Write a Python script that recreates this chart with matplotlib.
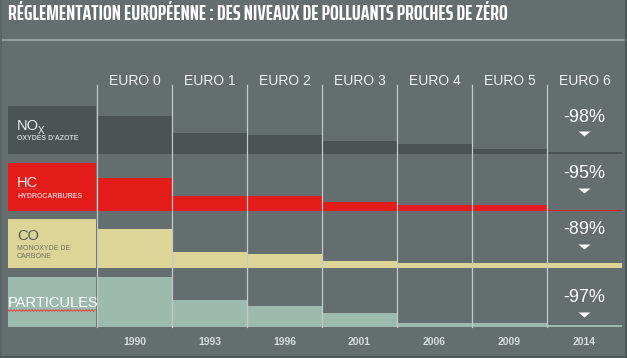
import numpy as np
import matplotlib
matplotlib.use('Agg')
import matplotlib.pyplot as plt
from matplotlib import font_manager
from matplotlib.font_manager import FontProperties
from matplotlib.patches import Rectangle, Polygon

# ── data (relative levels, EURO 0 row height scale) ──
norms = ['EURO 0', 'EURO 1', 'EURO 2', 'EURO 3', 'EURO 4', 'EURO 5', 'EURO 6']
years = ['1990', '1993', '1996', '2001', '2006', '2009', '2014']
nox = [38, 21, 19, 13, 10, 5, 2]
hc = [33, 15, 15, 9, 6, 6, 1.5]
co = [39, 16, 14, 7, 5, 5, 5]
pm = [50, 27, 21, 14, 4.5, 4, 2.5]
reductions = ['-98%', '-95%', '-89%', '-97%']

title = 'RÉGLEMENTATION EUROPÉENNE : DES NIVEAUX DE POLLUANTS PROCHES DE ZÉRO'

BG = '#646e6e'
C_NOX = '#4b5354'
C_HC = '#e31c1a'
C_CO = '#ddd597'
C_PM = '#9dbaae'
LINE = '#c4caca'

plt.rcParams['font.family'] = ['Liberation Sans', 'DejaVu Sans']

fig = plt.figure(figsize=(6.27, 3.58), dpi=100, facecolor=BG)
ax = fig.add_axes([0, 0, 1, 1])
ax.set_xlim(0, 627)
ax.set_ylim(358, 0)
ax.axis('off')
r = fig.canvas.get_renderer()

TITLE_W = 500
TITLE_PT = 14.5


def text_width(fp):
    tt = ax.text(0, 0, title, fontproperties=fp)
    w = tt.get_window_extent(r).width
    tt.remove()
    return w


def title_font():
    """Pick the bold narrow face whose natural width best matches the reference."""
    best = None
    seen = set()
    for f in font_manager.fontManager.ttflist:
        nm = (f.name + ' ' + f.fname).lower()
        narrow = ('narrow' in nm or 'condensed' in nm or
                  'condensed' in str(f.stretch))
        if not narrow or 'italic' in nm or 'oblique' in nm or f.fname in seen:
            continue
        w = f.weight if isinstance(f.weight, int) else {'bold': 700}.get(f.weight, 400)
        if w < 600 or w > 800:
            continue
        seen.add(f.fname)
        fp = FontProperties(fname=f.fname, size=TITLE_PT)
        try:
            wd = text_width(fp)
        except Exception:
            continue
        err = abs(np.log(wd / TITLE_W))
        if best is None or err < best[0]:
            best = (err, wd, fp)
    if best:
        return best[1], best[2]
    fp = FontProperties(family='Liberation Sans', weight='bold', size=TITLE_PT)
    return text_width(fp), fp


# title band, fitted to the reference width
wd, tfp = title_font()
tfp.set_size(float(np.clip(TITLE_PT * TITLE_W / wd, 11, 17)))
ax.text(8, 14.5, title, color='white', fontproperties=tfp, va='center', ha='left')
ax.axhline(40, color='#a3abab', lw=1.1)

col_w = 75
x0 = 97
xc = x0 + col_w / 2 + col_w * np.arange(len(norms))

rows = [
    # values, colour, bottom, top
    (nox, C_NOX, 154, 106),
    (hc, C_HC, 211, 163),
    (co, C_CO, 268, 219),
    (pm, C_PM, 327, 277),
]

for vals, color, bottom, top in rows:
    vals = np.array(vals, dtype=float)
    ax.bar(xc, vals, bottom=bottom - vals, width=col_w, color=color, lw=0, zorder=2)
    ax.add_patch(Rectangle((8, top), 88, bottom - top, color=color, lw=0, zorder=2))

# column dividers
for i in range(len(norms)):
    ax.plot([x0 + col_w * i] * 2, [85, 327], color=LINE, lw=0.9, zorder=3)

# headers and years
for x, n, yr in zip(xc, norms, years):
    ax.text(x, 81, n, color='#f0f2f2', fontsize=10, ha='center', va='center')
    ax.text(x, 342, yr, color='#d8dcdc', fontsize=7.5, fontweight='bold',
            ha='center', va='center')

# reductions with arrows
xr = xc[-1]
for (vals, color, bottom, top), lab in zip(rows, reductions):
    ty = top + 11 if lab != '-97%' else top + 21
    ax.text(xr, ty, lab, color='white', fontsize=13, ha='center', va='center', zorder=4)
    ay = ty + 17
    ax.add_patch(Polygon([[xr - 6, ay - 2.5], [xr + 6, ay - 2.5], [xr, ay + 2.5]],
                         closed=True, color='white', lw=0, zorder=4))

# left labels
ax.text(17, 126, 'NO', color='#eef0f0', fontsize=10.5, va='center', zorder=4)
ax.text(37.5, 131, 'X', color='#eef0f0', fontsize=7, va='center', zorder=4)
ax.text(17, 139, "OXYDES D'AZOTE", color='#c9cece', fontsize=5, fontweight='bold',
        va='center', zorder=4)
ax.text(17, 183, 'HC', color='#f6f0f0', fontsize=10.5, va='center', zorder=4)
ax.text(17, 196, 'HYDROCARBURES', color='#f6c4c4', fontsize=5, fontweight='bold',
        va='center', zorder=4)
ax.text(17, 236, 'CO', color='#555a55', fontsize=10.5, va='center', zorder=4)
ax.text(17, 249, 'MONOXYDE DE', color='#6e6e60', fontsize=5, va='center', zorder=4)
ax.text(17, 257, 'CARBONE', color='#6e6e60', fontsize=5, va='center', zorder=4)
ax.text(8, 303, 'PARTICULES', color='white', fontsize=10.5, va='center', zorder=4)


# spell-check squiggles
def squiggle(xa, xb, y):
    xs = np.arange(xa, xb + 0.1, 1.5)
    ys = y + np.where(np.arange(len(xs)) % 2 == 0, -0.7, 0.7)
    ax.plot(xs, ys, color='#e23a36', lw=0.7, zorder=5)


squiggle(17, 37, 189)
squiggle(8, 96, 310.5)

# frame: left, right, bottom edges only
ax.plot([0.5, 0.5], [0, 358], color='#586262', lw=1.2, zorder=6)
ax.plot([626.3, 626.3], [0, 358], color='#4a5353', lw=1.2, zorder=6)
ax.plot([0, 627], [357.3, 357.3], color='#4a5353', lw=1.2, zorder=6)

fig.savefig('out.png', dpi=100, facecolor=BG)
